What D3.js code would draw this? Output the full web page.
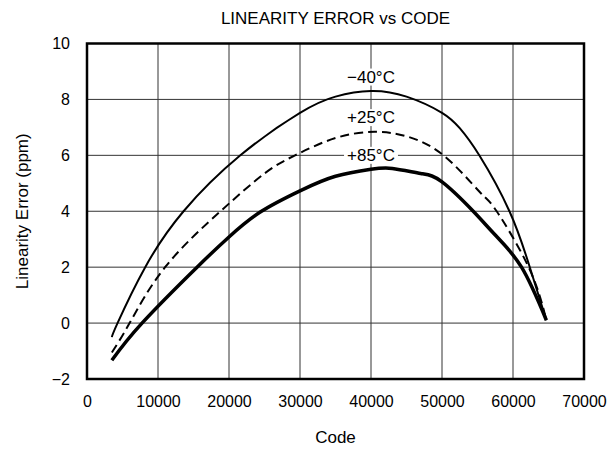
<!DOCTYPE html>
<html>
<head>
<meta charset="utf-8">
<script src="https://cdn.jsdelivr.net/npm/d3@7"></script>
<style>
  html, body { margin: 0; padding: 0; background: #fff; }
  text { font-family: "Liberation Sans", Arial, Helvetica, sans-serif; fill: #000; }
</style>
</head>
<body>
<svg id="chart" width="615" height="451"></svg>
<script>
const title = "LINEARITY ERROR vs CODE";
const xLabel = "Code";
const yLabel = "Linearity Error (ppm)";
const xTicks = [0, 10000, 20000, 30000, 40000, 50000, 60000, 70000];
const yTicks = [-2, 0, 2, 4, 6, 8, 10];

const codeM40 = [3500, 4300, 8200, 13600, 21600, 30000, 35000, 40000, 45000, 50000, 52500, 55250, 59500, 62300, 64700];
const errM40  = [-0.5, 0, 2, 4, 6, 7.52, 8.1, 8.3, 8.1, 7.52, 6.97, 6, 4, 2.05, 0.1];

const code25 = [3500, 6000, 11000, 18800, 25000, 29300, 35000, 40500, 45000, 50200, 55350, 57700, 62200, 64700];
const err25  = [-1.05, 0, 2, 4, 5.35, 6, 6.62, 6.84, 6.68, 6.0, 4.68, 4.0, 2.0, 0.1];

const code85 = [3500, 7750, 15500, 20000, 24400, 30000, 35000, 40000, 43000, 47000, 50000, 54400, 57500, 61200, 64700];
const err85  = [-1.33, 0, 2, 3.08, 3.97, 4.73, 5.25, 5.5, 5.53, 5.35, 5.05, 4, 3.15, 2, 0.1];

const seriesLabels = ["\u221240\u00B0C", "+25\u00B0C", "+85\u00B0C"];
const labelCodes = [40000, 40000, 40000];
const labelErrs = [8.8, 7.35, 6.0];

const margin = {left: 87, top: 43.5, right: 615 - 584, bottom: 451 - 379};
const svg = d3.select("#chart");
const W = 615, H = 451;
const x = d3.scaleLinear().domain([0, 70000]).range([margin.left, W - margin.right]);
const y = d3.scaleLinear().domain([-2, 10]).range([H - margin.bottom, margin.top]);

// grid
const grid = svg.append("g");
grid.selectAll("line.v").data(xTicks.slice(1, -1)).join("line")
  .attr("x1", d => x(d)).attr("x2", d => x(d))
  .attr("y1", y(-2)).attr("y2", y(10))
  .attr("stroke", "#333").attr("stroke-width", 1);
grid.selectAll("line.h").data(yTicks.slice(1, -1)).join("line")
  .attr("y1", d => y(d)).attr("y2", d => y(d))
  .attr("x1", x(0)).attr("x2", x(70000))
  .attr("stroke", "#333").attr("stroke-width", 1);

// axes (labels only)
const xAxis = d3.axisBottom(x).tickValues(xTicks).tickFormat(d3.format("d")).tickSize(0).tickPadding(17);
const gx = svg.append("g").attr("transform", `translate(0,${y(-2)})`).call(xAxis);
gx.select(".domain").remove();
gx.selectAll("text").attr("font-size", 16).attr("font-family", "Liberation Sans, Arial, sans-serif");

const yAxis = d3.axisLeft(y).tickValues(yTicks).tickFormat(d => d < 0 ? "\u2212" + Math.abs(d) : d).tickSize(0).tickPadding(17);
const gy = svg.append("g").attr("transform", `translate(${x(0)},0)`).call(yAxis);
gy.select(".domain").remove();
gy.selectAll("text").attr("font-size", 16).attr("font-family", "Liberation Sans, Arial, sans-serif");

// curves
const line = d3.line().x(d => x(d[0])).y(d => y(d[1])).curve(d3.curveNatural);
const mk = (c, e) => c.map((v, i) => [v, e[i]]);
svg.append("path").datum(mk(codeM40, errM40)).attr("d", line)
  .attr("fill", "none").attr("stroke", "#000").attr("stroke-width", 2);
svg.append("path").datum(mk(code25, err25)).attr("d", line)
  .attr("fill", "none").attr("stroke", "#000").attr("stroke-width", 2).attr("stroke-dasharray", "9,5");
svg.append("path").datum(mk(code85, err85)).attr("d", line)
  .attr("fill", "none").attr("stroke", "#000").attr("stroke-width", 3.5);

// series labels with white background
seriesLabels.forEach((lab, i) => {
  const g = svg.append("g");
  const t = g.append("text").attr("x", x(labelCodes[i])).attr("y", y(labelErrs[i]))
    .attr("text-anchor", "middle").attr("dominant-baseline", "central")
    .attr("font-size", 17).text(lab);
  const bb = t.node().getBBox();
  g.insert("rect", "text").attr("x", bb.x - 3).attr("y", bb.y + 1).attr("width", bb.width + 6).attr("height", bb.height - 2).attr("fill", "#fff");
});

// frame
svg.append("rect").attr("x", x(0)).attr("y", y(10)).attr("width", x(70000) - x(0)).attr("height", y(-2) - y(10))
  .attr("fill", "none").attr("stroke", "#000").attr("stroke-width", 2.5);

// titles
svg.append("text").attr("x", (x(0) + x(70000)) / 2).attr("y", 24).attr("text-anchor", "middle").attr("font-size", 17).text(title);
svg.append("text").attr("x", (x(0) + x(70000)) / 2).attr("y", 443).attr("text-anchor", "middle").attr("font-size", 17).text(xLabel);
svg.append("text").attr("transform", `translate(28,${(y(10) + y(-2)) / 2}) rotate(-90)`).attr("text-anchor", "middle").attr("font-size", 17).text(yLabel);
</script>
</body>
</html>
